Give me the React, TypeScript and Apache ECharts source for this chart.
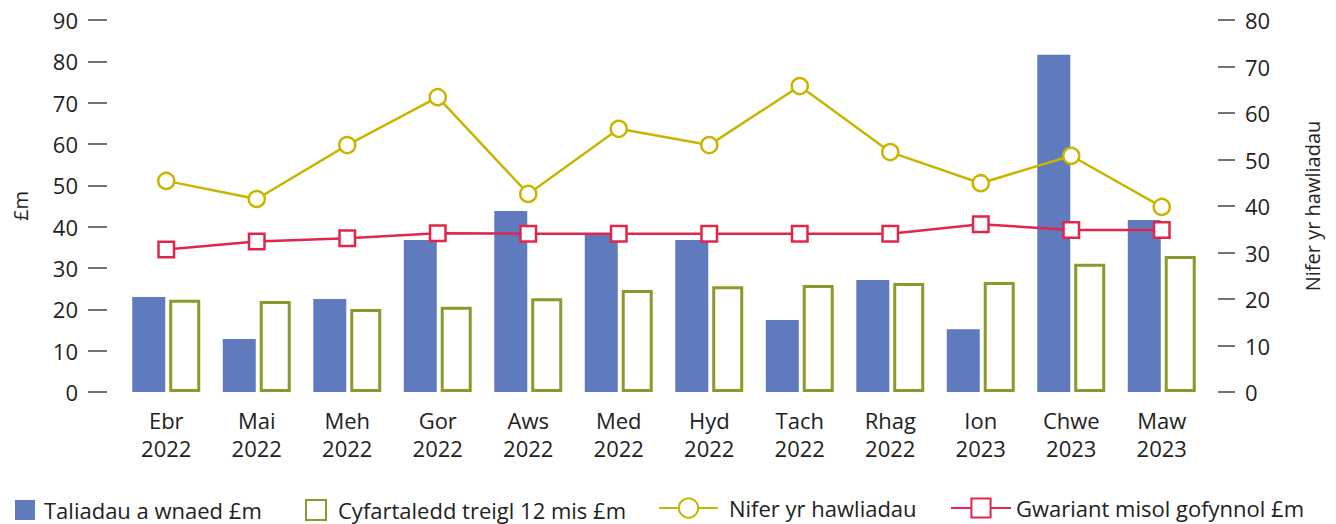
import React, { useEffect, useRef } from "react";
import * as echarts from "echarts";

const categories = ["Ebr\n2022", "Mai\n2022", "Meh\n2022", "Gor\n2022", "Aws\n2022", "Med\n2022", "Hyd\n2022", "Tach\n2022", "Rhag\n2022", "Ion\n2023", "Chwe\n2023", "Maw\n2023"];
const taliadau = [23.0, 12.8, 22.5, 36.8, 43.8, 38.0, 36.8, 17.4, 27.1, 15.2, 81.6, 41.6];
const cyfartaledd = [22.3, 22.0, 20.1, 20.6, 22.7, 24.7, 25.6, 25.9, 26.4, 26.6, 31.0, 32.9];
const nifer = [45.4, 41.5, 53.1, 63.4, 42.6, 56.6, 53.1, 65.8, 51.6, 44.9, 50.8, 39.8];
const gwariant = [34.5, 36.4, 37.2, 38.4, 38.3, 38.3, 38.3, 38.3, 38.3, 40.6, 39.2, 39.2];

const names = ["Taliadau a wnaed £m", "Cyfartaledd treigl 12 mis £m", "Nifer yr hawliadau", "Gwariant misol gofynnol £m"];

const FONT = "'Open Sans', Lato, sans-serif";
const TXT = "#222";
const BLUE = "#5f7bbd";
const GREEN = "#8a9b2c";
const YELLOW = "#c9b500";
const RED = "#e2264b";
const FS = 22;

export default function App() {
  const ref = useRef<HTMLDivElement>(null);
  useEffect(() => {
    document.body.style.margin = "0";
    if (!ref.current) return;
    const chart = echarts.init(ref.current, undefined, { renderer: "svg" });
    const lt = (pad: number) => ({ fontSize: 22, color: TXT, fontFamily: FONT, padding: [0, 0, 0, pad] });
    const legendBase = {
      top: 499,
      padding: 0,
      itemHeight: 20,
      itemGap: 8,
      selectedMode: false,
    };
    chart.setOption({
      animation: false,
      textStyle: { fontFamily: FONT },
      grid: { left: 121, right: 129, top: 20, bottom: 132, outerBoundsMode: "none", containLabel: false },
      legend: [
        { ...legendBase, left: 15, itemWidth: 20, icon: "rect", data: [names[0]], textStyle: lt(4) },
        { ...legendBase, left: 305, itemWidth: 20, icon: "rect", data: [names[1]], textStyle: lt(7) },
        { ...legendBase, left: 658, itemWidth: 59, itemHeight: 24, top: 497, data: [names[2]], textStyle: lt(6) },
        { ...legendBase, left: 950, itemWidth: 60, itemHeight: 24, top: 497, data: [names[3]], textStyle: lt(0) },
      ],
      xAxis: {
        type: "category",
        data: categories,
        axisLine: { show: false },
        axisTick: { show: false },
        axisLabel: { fontSize: FS, color: TXT, lineHeight: 28, margin: 14, fontFamily: FONT },
      },
      yAxis: [
        {
          type: "value",
          min: 0,
          max: 90,
          interval: 10,
          offset: 14,
          name: "£m",
          nameLocation: "middle",
          nameRotate: 90,
          nameGap: 77,
          nameTextStyle: { fontSize: 20, color: TXT, fontFamily: FONT },
          axisLine: { show: false },
          axisTick: { show: true, length: 19, lineStyle: { color: "#444", width: 1.5 } },
          splitLine: { show: false },
          axisLabel: { fontSize: FS, color: TXT, margin: 29, fontFamily: FONT },
        },
        {
          type: "value",
          min: 0,
          max: 80,
          interval: 10,
          offset: 11,
          position: "right",
          name: "Nifer yr hawliadau",
          nameLocation: "middle",
          nameRotate: 90,
          nameGap: 84,
          nameTextStyle: { fontSize: 20, color: TXT, fontFamily: FONT },
          axisLine: { show: false },
          axisTick: { show: true, length: 17, lineStyle: { color: "#444", width: 1.5 } },
          splitLine: { show: false },
          axisLabel: { fontSize: FS, color: TXT, margin: 27, fontFamily: FONT },
        },
      ],
      series: [
        {
          name: names[0],
          type: "bar",
          data: taliadau,
          barWidth: 33,
          barGap: "12%",
          itemStyle: { color: BLUE },
        },
        {
          name: names[1],
          type: "bar",
          data: cyfartaledd,
          barWidth: 31,
          itemStyle: { color: "#fff", borderColor: GREEN, borderWidth: 3 },
        },
        {
          name: names[2],
          type: "line",
          yAxisIndex: 1,
          data: nifer,
          symbol: "circle",
          symbolSize: 16,
          lineStyle: { color: YELLOW, width: 2.5 },
          itemStyle: { color: "#fff", borderColor: YELLOW, borderWidth: 2.5 },
          z: 5,
        },
        {
          name: names[3],
          type: "line",
          data: gwariant,
          symbol: "rect",
          symbolSize: 15.5,
          lineStyle: { color: RED, width: 2.5 },
          itemStyle: { color: "#fff", borderColor: RED, borderWidth: 2.5 },
          z: 6,
        },
      ],
    });
    return () => chart.dispose();
  }, []);
  return <div ref={ref} style={{ width: 1336, height: 524 }} />;
}
